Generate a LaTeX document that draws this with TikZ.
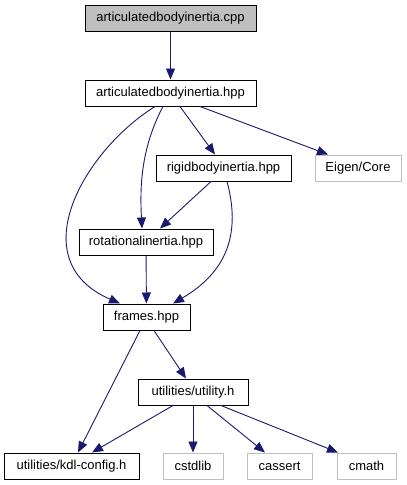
\documentclass[tikz,border=0pt]{standalone}
\usepackage{fontspec}
\setmainfont{Liberation Sans}
\usetikzlibrary{arrows.meta}
\definecolor{edgeblue}{HTML}{191970}
\definecolor{boxgrey}{HTML}{BFBFBF}
\begin{document}
\begin{tikzpicture}[x=1pt, y=-1pt,
every node/.style={draw, rectangle, minimum height=26pt, inner sep=0pt, line width=1pt, font=\fontsize{13}{15}\selectfont},
ext/.style={draw=boxgrey},
dep/.style={draw=edgeblue, line width=0.9pt, -{Triangle[length=11pt,width=9pt]}}
]
\useasboundingbox (0,0) rectangle (407,485);
\node[fill=boxgrey, minimum width=171pt] (cpp) at (170.5,18) {articulatedbodyinertia.cpp};
\node[minimum width=171pt] (abi) at (170.5,93) {articulatedbodyinertia.hpp};
\node[minimum width=135pt] (rigid) at (223.5,168) {rigidbodyinertia.hpp};
\node[ext, minimum width=86pt] (eigen) at (358,168) {Eigen/Core};
\node[minimum width=134pt] (rot) at (146,242) {rotationalinertia.hpp};
\node[minimum width=87pt] (frames) at (146.5,317) {frames.hpp};
\node[minimum width=110pt] (util) at (193,392) {utilities/utility.h};
\node[minimum width=135pt] (kdl) at (71.5,466) {utilities/kdl-config.h};
\node[ext, minimum width=60pt] (cstdlib) at (193,466) {cstdlib};
\node[ext, minimum width=65pt] (cassert) at (279.5,466) {cassert};
\node[ext, minimum width=59pt] (cmath) at (366.5,466) {cmath};
\draw[dep] (cpp) -- (abi);
\draw[dep] ([xshift=-15.5pt]abi.south) .. controls (85,150) and (20,260) .. ([xshift=-26.5pt]frames.north);
\draw[dep] ([xshift=-7.5pt]abi.south) .. controls (140,150) and (140,190) .. ([xshift=-4pt]rot.north);
\draw[dep] ([xshift=9.5pt]abi.south) -- ([xshift=-8.5pt]rigid.north);
\draw[dep] ([xshift=29.5pt]abi.south) -- ([xshift=-30pt]eigen.north);
\draw[dep] ([xshift=-12.5pt]rigid.south) -- ([xshift=14pt]rot.north);
\draw[dep] ([xshift=3.5pt]rigid.south) .. controls (240,230) and (230,270) .. ([xshift=26.5pt]frames.north);
\draw[dep] (rot) -- (frames);
\draw[dep] ([xshift=-6.5pt]frames.south) -- ([xshift=6.5pt]kdl.north);
\draw[dep] ([xshift=7.5pt]frames.south) -- ([xshift=-7pt]util.north);
\draw[dep] ([xshift=-20pt]util.south) -- ([xshift=20.5pt]kdl.north);
\draw[dep] (util) -- (cstdlib);
\draw[dep] ([xshift=14pt]util.south) -- ([xshift=-14.5pt]cassert.north);
\draw[dep] ([xshift=28pt]util.south) -- ([xshift=-28.5pt]cmath.north);
\end{tikzpicture}
\end{document}
